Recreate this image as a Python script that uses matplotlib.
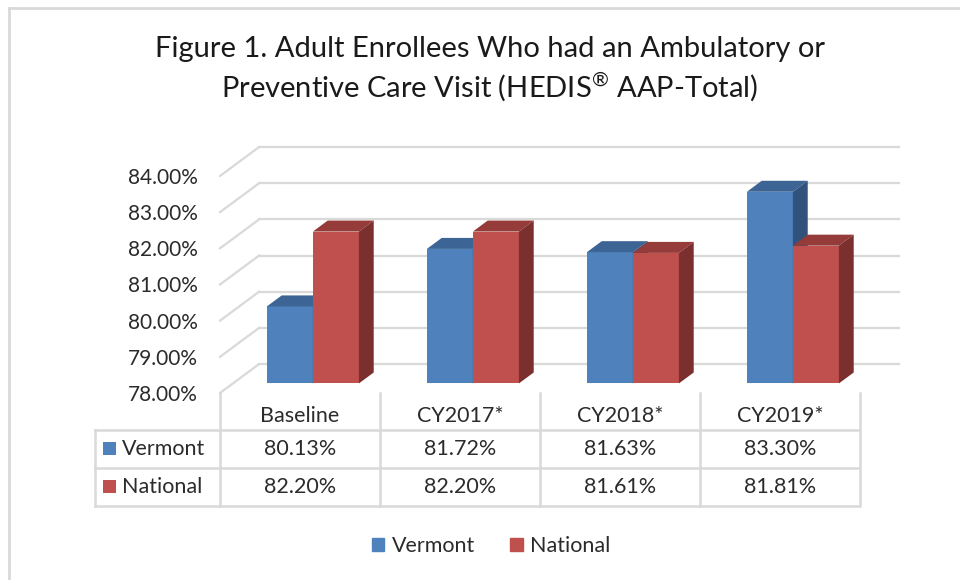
import numpy as np
import matplotlib
matplotlib.use("Agg")
import matplotlib.pyplot as plt
from matplotlib.patches import Polygon, Patch
from matplotlib.transforms import blended_transform_factory

# data
categories = ["Baseline", "CY2017*", "CY2018*", "CY2019*"]
series_names = ["Vermont", "National"]
vermont = [80.13, 81.72, 81.63, 83.30]
national = [82.20, 82.20, 81.61, 81.81]
y_ticks = [78, 79, 80, 81, 82, 83, 84]

TITLE = ("Figure 1. Adult Enrollees Who had an Ambulatory or\n"
         "Preventive Care Visit (HEDIS$^{\\mathregular{\u00ae}}$ AAP-Total)")

W, H = 960, 580
plt.rcParams["font.family"] = ["Lato", "DejaVu Sans"]

FRONT = {"Vermont": "#4f81bd", "National": "#c0504d"}
TOP = {"Vermont": "#3c6494", "National": "#953b39"}
SIDE = {"Vermont": "#30527c", "National": "#7b2f2e"}
GRID = "#d9d9d9"
TXT = "#2b2b2b"


def fx(px):
    return px / W


def fy(py):
    return 1 - py / H


fig = plt.figure(figsize=(W / 100, H / 100), dpi=100)

# axes = front plane of the 3D box (floor front edge / left wall front edge)
ax = fig.add_axes([fx(220), fy(393), fx(860) - fx(220), fy(176) - fy(393)])
n = len(categories)
ax.set_xlim(-0.5, n - 0.5)
ax.set_ylim(y_ticks[0], y_ticks[-1])
ax.patch.set_visible(False)
for s in ax.spines.values():
    s.set_visible(False)
ax.set_xticks([])
ax.set_yticks(y_ticks)
ax.set_yticklabels([f"{t:.2f}%" for t in y_ticks], fontsize=15, color=TXT)
ax.tick_params(axis="y", length=0, pad=16)

# depth of the box in data units (x: categories, y: percent)
DX, DY = 0.244, 0.80
x_left, x_right = -0.5, n - 0.5
base = y_ticks[0]

# side wall + back wall gridlines
for t in y_ticks:
    ax.plot([x_left, x_left + DX], [t, t + DY], color=GRID, lw=1.6,
            clip_on=False, zorder=1)
    ax.plot([x_left + DX, x_right + DX], [t + DY, t + DY], color=GRID, lw=1.6,
            clip_on=False, zorder=1)

# 3D columns
bw = 0.2875
f1, f2 = 0.33, 0.71
ddx, ddy = (f2 - f1) * DX, (f2 - f1) * DY
for i in range(n):
    for k, (name, vals) in enumerate(zip(series_names, [vermont, national])):
        x0 = i - bw + k * bw + f1 * DX
        y0 = base + f1 * DY
        h = vals[i] - base
        x1, yt = x0 + bw, y0 + h
        ax.bar(x0, h, width=bw, bottom=y0, align="edge", color=FRONT[name],
               lw=0, clip_on=False, zorder=2)
        ax.add_patch(Polygon([(x0, yt), (x1, yt), (x1 + ddx, yt + ddy),
                              (x0 + ddx, yt + ddy)], closed=True,
                             color=TOP[name], lw=0, clip_on=False, zorder=2))
        ax.add_patch(Polygon([(x1, y0), (x1, yt), (x1 + ddx, yt + ddy),
                              (x1 + ddx, y0 + ddy)], closed=True,
                             color=SIDE[name], lw=0, clip_on=False, zorder=2))

# data table under the plot
tr = blended_transform_factory(ax.transData, fig.transFigure)
row_y = [416, 449, 487]
for j in range(n + 1):
    ax.plot([x_left + j, x_left + j], [fy(393), fy(506)], transform=tr,
            color=GRID, lw=1.8, clip_on=False)
for py in [430, 468, 506]:
    fig.add_artist(plt.Line2D([fx(95), fx(858)], [fy(py), fy(py)],
                              color=GRID, lw=1.8))
fig.add_artist(plt.Line2D([fx(95), fx(95)], [fy(430), fy(506)],
                          color=GRID, lw=1.8))

for i, cat in enumerate(categories):
    ax.text(i, fy(row_y[0]), cat, transform=tr, ha="center", va="center",
            fontsize=15.5, color=TXT)
for r, (name, vals) in enumerate(zip(series_names, [vermont, national])):
    py = row_y[r + 1]
    fig.patches.append(plt.Rectangle((fx(103), fy(py + 6)), fx(13), 13 / H,
                                     transform=fig.transFigure,
                                     color=FRONT[name], lw=0))
    fig.text(fx(122), fy(py), name, ha="left", va="center", fontsize=15.5,
             color=TXT)
    for i, v in enumerate(vals):
        ax.text(i, fy(py), f"{v:.2f}%", transform=tr, ha="center",
                va="center", fontsize=15.5, color=TXT)

# legend
handles = [Patch(color=FRONT[s], label=s) for s in series_names]
fig.legend(handles=handles, loc="center", bbox_to_anchor=(fx(491), fy(546)),
           ncol=2, frameon=False, fontsize=15.5, handlelength=0.6,
           handleheight=0.6, handletextpad=0.35, columnspacing=1.6,
           labelcolor=TXT)

fig.text(fx(490), fy(70), TITLE, ha="center", va="center", fontsize=21,
         color="#1a1a1a", linespacing=1.28)

# chart area border (left and top visible)
fig.add_artist(plt.Line2D([fx(9), fx(9)], [fy(8), 0], color=GRID, lw=2))
fig.add_artist(plt.Line2D([fx(9), 1], [fy(8), fy(8)], color=GRID, lw=2))

fig.savefig("out.png", dpi=100)
